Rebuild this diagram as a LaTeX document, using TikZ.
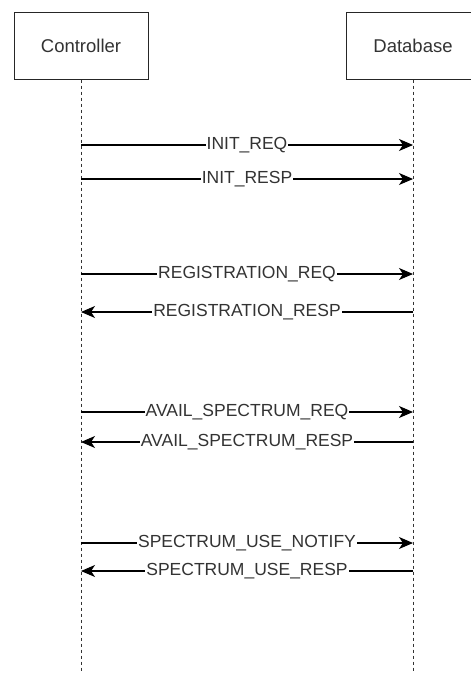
\documentclass[tikz,border=0pt]{standalone}
\usepackage{fontspec}
\setmainfont{Liberation Sans}
\usetikzlibrary{arrows.meta}
\begin{document}
\begin{tikzpicture}[x=1pt,y=-1pt,
  actor/.style={draw=black!85,line width=1pt,fill=white,minimum width=134pt,minimum height=67pt,inner sep=0pt,font=\fontsize{18.5}{20}\selectfont,text=black!80},
  life/.style={draw=black!80,line width=1pt,dash pattern=on 3pt off 3pt},
  msg/.style={draw=black,line width=1.1pt,-{Stealth[length=14pt,width=12pt,inset=4pt]}},
  lbl/.style={fill=white,inner sep=1pt,font=\fontsize{17.5}{19}\selectfont,text=black!80}]
\useasboundingbox (0,0) rectangle (471,673);
\clip (0,0) rectangle (471,673);
\node[actor] (ctrl) at (81,45.5) {Controller};
\node[actor] (db) at (413,45.5) {Database};
\coordinate (cend) at (81,673);
\coordinate (dend) at (413,673);
\draw[life] (ctrl.south) -- (cend);
\draw[life] (db.south) -- (dend);
% message anchors
\foreach \n/\y in {1/145,2/179,3/274,4/312,5/412,6/442,7/543,8/571}{
  \coordinate (c\n) at (81,\y);
  \coordinate (d\n) at (413,\y);
}
\draw[msg] (c1) -- node[lbl] {INIT\_REQ} (d1);
\draw[msg] (c2) -- node[lbl] {INIT\_RESP} (d2);
\draw[msg] (c3) -- node[lbl] {REGISTRATION\_REQ} (d3);
\draw[msg] (d4) -- node[lbl] {REGISTRATION\_RESP} (c4);
\draw[msg] (c5) -- node[lbl] {AVAIL\_SPECTRUM\_REQ} (d5);
\draw[msg] (d6) -- node[lbl] {AVAIL\_SPECTRUM\_RESP} (c6);
\draw[msg] (c7) -- node[lbl] {SPECTRUM\_USE\_NOTIFY} (d7);
\draw[msg] (d8) -- node[lbl] {SPECTRUM\_USE\_RESP} (c8);
\end{tikzpicture}
\end{document}
